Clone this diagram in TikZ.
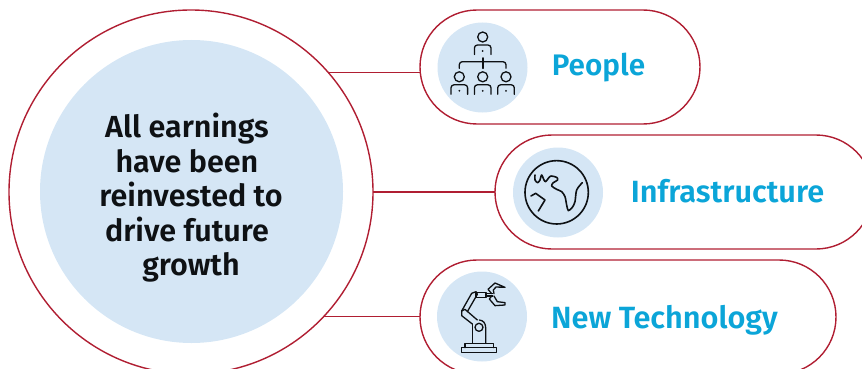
\documentclass[tikz,border=0pt]{standalone}
\usepackage{fontspec}
\setmainfont{Fira Sans SemiBold}
\usetikzlibrary{shapes.misc}
\definecolor{ringred}{HTML}{B01E32}
\definecolor{paleblue}{HTML}{D5E6F5}
\definecolor{labelblue}{HTML}{0BA5D8}
\definecolor{inkblack}{HTML}{0E1114}
\tikzset{
	ring/.style={circle, draw=ringred, line width=1.4pt, minimum size=364pt, inner sep=0pt, outer sep=0pt},
	hub/.style={circle, fill=paleblue, minimum size=303pt, inner sep=0pt},
	hubtext/.style={text=inkblack, align=center, inner sep=0pt, font=\fontsize{30.5}{34.5}\selectfont},
	pill/.style={rounded rectangle, draw=ringred, line width=1.4pt, minimum height=114pt, inner sep=0pt, outer sep=0pt},
	badge/.style={circle, fill=paleblue, minimum size=90pt, inner sep=0pt},
	pilltext/.style={text=labelblue, inner sep=0pt, font=\fontsize{30.7}{34}\selectfont},
	wire/.style={draw=ringred, line width=1.1pt},
	iconline/.style={draw=inkblack, line width=1.3pt, line cap=round, line join=round},
	person/.pic={
		\draw[iconline] (0,-17.5) circle (5);
		\draw[iconline, rounded corners=3pt] (-8.3,0) -- (-8.3,-9.5) -- (8.3,-9.5) -- (8.3,0);
		\fill[inkblack] (0,-3.5) circle (1);
	}
}
\begin{document}
\begin{tikzpicture}[x=1pt,y=-1pt]
		\clip (0,0) rectangle (862,369);
		\node[ring] (outer) at (191,192) {};
		\node[hub] (hub) at (191.5,191.5) {};
		\node[hubtext] (hubtext) at (191,198) {All earnings\kern8pt\\have been\kern8pt\\reinvested to\\drive future\kern8pt\\growth};
		\node[pill, minimum width=280pt] (people) at (560,67) {};
		\node[pill, minimum width=378pt] (infra) at (684,192) {};
		\node[pill, minimum width=416pt] (tech) at (628,317) {};
		\draw[wire] (outer.41.5) -- (outer.41.5 -| people.west);
		\draw[wire] (outer.east) -- (infra.west);
		\draw[wire] (outer.-43) -- (outer.-43 -| tech.west);
		\node[badge] (peoplebadge) at (482.5,67.5) {};
		\node[badge] (infrabadge) at (558,192.5) {};
		\node[badge] (techbadge) at (482,316.5) {};
		\node[pilltext, font=\fontsize{29.7}{34}\selectfont] (peoplelabel) at (598.5,68) {People};
		\node[pilltext] (infralabel) at (727.5,191.5) {Infrastructure};
		\node[pilltext] (techlabel) at (664.5,320) {New Technology};
		\pic at (482.7,54.5) {person};
		\pic at (459.3,94.3) {person};
		\pic at (482.7,94.3) {person};
		\pic at (506,94.3) {person};
		\draw[iconline, rounded corners=3pt] (459.3,68.3) -- (459.3,61.7) -- (506,61.7) -- (506,68.3);
		\draw[iconline, line width=1.7pt] (482.7,58) -- (482.7,68.3);
		\begin{scope}[shift={(495,130)}, x=0.3333pt, y=-0.3333pt]
			\draw[iconline, line width=1.6pt] (185,187) circle (95);
			\draw[iconline, line width=1.6pt] plot[smooth, tension=0.5] coordinates {(120,135) (120,150) (128,158) (135,150) (140,135) (147,150) (152,155) (160,145) (168,138) (185,142) (188,150) (175,158) (170,168) (185,178) (200,185) (210,200) (215,225) (220,242) (232,232) (240,215) (245,180) (262,158)};
			\draw[iconline, line width=1.6pt] (108,198) -- (122,190) -- (150,210) -- (130,243);
		\end{scope}
		\begin{scope}[shift={(420,255)}, x=0.3333pt, y=-0.3333pt]
			\draw[iconline] (125,278) rectangle (230,292);
			\draw[iconline] (135,278) -- (135,265) -- (220,265) -- (220,278);
			\draw[iconline] (157,265) -- (157,207);
			\draw[iconline] (197,265) -- (197,218) .. controls (197,205) and (190,196) .. (178,195);
			\draw[iconline] (177,217) circle (12);
			\draw[iconline] (157,207) -- (125,182) -- (125,168) -- (135,163) -- (172,195);
			\draw[iconline] (125,168) -- (155,115) -- (168,110) -- (172,118) -- (142,170);
			\draw[iconline] (168,112) rectangle (198,127);
			\draw[iconline] (198,116) -- (218,116);
			\draw[iconline] (198,123) -- (218,123);
			\draw[iconline] (215,116) -- (204,103) -- (225,84) -- (255,97) -- (228,96) -- (220,105) -- (222,116);
			\draw[iconline] (215,123) -- (208,132) -- (225,152) -- (255,150) -- (255,143) -- (232,140) -- (222,123);
		\end{scope}
\end{tikzpicture}
\end{document}
